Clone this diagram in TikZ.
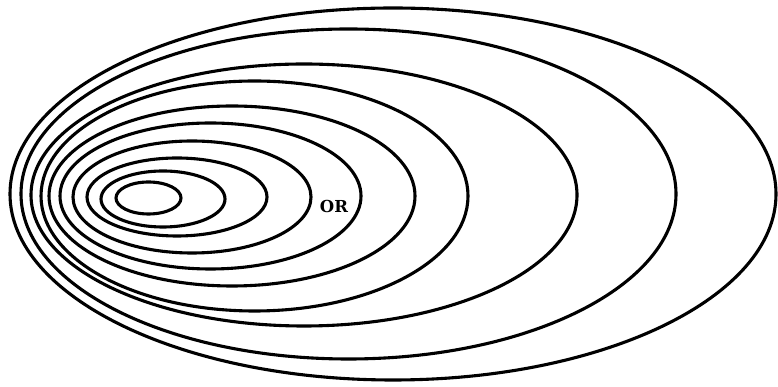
\documentclass[tikz,border=0pt]{standalone}
\usepackage{fontspec}
\setmainfont{Latin Modern Roman}
\newfontfamily\orfont{DejaVu Serif}
\begin{document}
\begin{tikzpicture}[x=1pt,y=1pt,
  ring/.style={draw=black, line width=3.1pt},
  ortext/.style={font=\orfont\bfseries\fontsize{16.5}{16.5}\selectfont, inner sep=0pt}]
\useasboundingbox (0,0) rectangle (778,387);
\foreach \L/\R/\b/\cy in {
  116/181/16/198,
  101/225/28/199,
  87/267/39/197,
  73/311/56/197,
  60/361/73/196,
  49/415/90/196,
  41/468/115/196,
  31/577/131/195,
  21/676/165/194,
  10/776/186/194}
{
  \draw[ring] ({(\L+\R)/2},{387-\cy}) ellipse [x radius={(\R-\L)/2}, y radius=\b];
}
\node[ortext] (or) at (334,181) {OR};
\end{tikzpicture}
\end{document}
